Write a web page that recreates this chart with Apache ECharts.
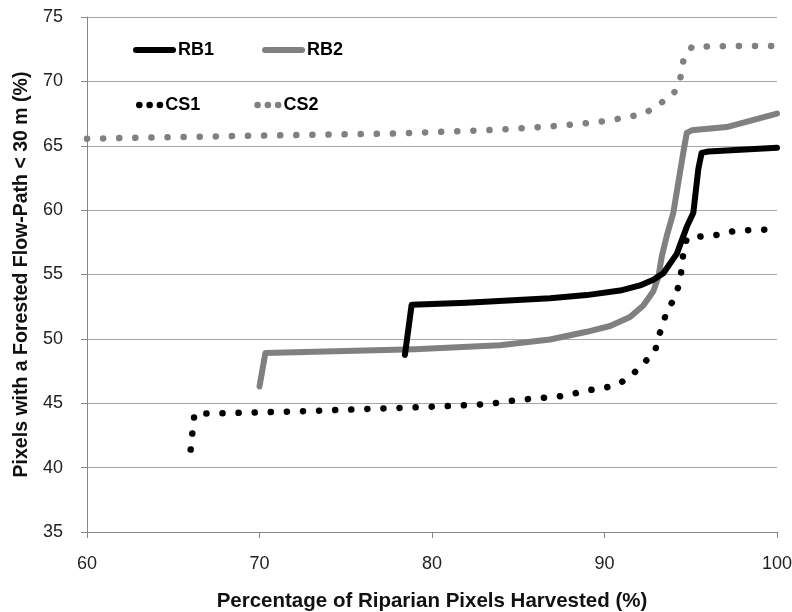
<!DOCTYPE html>
<html>
<head>
<meta charset="utf-8">
<script src="https://cdn.jsdelivr.net/npm/echarts@6/dist/echarts.min.js"></script>
<style>
  html, body { margin: 0; padding: 0; background: #fff; }
  #chart { width: 792px; height: 612px; }
</style>
</head>
<body>
<div id="chart"></div>
<script>
// values
const rb1X = [78.43, 78.82, 82.01, 86.84, 88.97, 90.90, 92.06, 92.83, 93.41, 94.19, 94.77, 95.15, 95.44, 95.63, 96.02, 100];
const rb1Y = [48.75, 52.65, 52.80, 53.15, 53.40, 53.75, 54.15, 54.60, 55.10, 56.60, 58.70, 59.80, 63.20, 64.45, 64.55, 64.85];

const rb2X = [70.0, 70.34, 79.0, 83.94, 86.84, 88.97, 90.32, 91.48, 92.25, 92.83, 93.12, 93.32, 93.61, 93.99, 94.57, 94.77, 95.06, 97.08, 100];
const rb2Y = [46.3, 48.9, 49.2, 49.5, 49.95, 50.55, 51.0, 51.7, 52.6, 53.7, 54.8, 56.4, 58.0, 59.8, 64.5, 66.0, 66.2, 66.45, 67.5];

const cs1X = [66.01, 66.10, 66.20, 66.22, 67.13, 71.77, 78.34, 81.24, 83.36, 84.91, 86.74, 87.81, 88.97, 89.93, 90.90, 91.67, 92.44, 92.93, 93.12, 93.37, 93.61, 93.90, 94.19, 94.38, 94.48, 94.57, 94.77, 95.54, 96.70, 97.57, 98.53, 99.7];
const cs1Y = [41.4, 42.6, 43.8, 44.2, 44.2, 44.35, 44.65, 44.8, 44.95, 45.25, 45.45, 45.6, 46.0, 46.15, 46.55, 47.3, 48.35, 49.0, 50.2, 50.95, 52.25, 52.8, 53.7, 54.45, 55.6, 56.65, 57.8, 57.95, 58.1, 58.4, 58.45, 58.5];

const cs2X = [60, 68.48, 77.95, 83.94, 86.84, 88.97, 89.93, 91.48, 92.44, 93.41, 93.99, 94.28, 94.48, 94.57, 94.86, 95.06, 96.12, 97.28, 99.7];
const cs2Y = [65.55, 65.75, 65.95, 66.25, 66.5, 66.75, 66.9, 67.25, 67.6, 68.45, 69.0, 69.75, 70.65, 71.6, 72.1, 72.7, 72.7, 72.75, 72.75];

const xTicks = [60, 70, 80, 90, 100];
const yTicks = [35, 40, 45, 50, 55, 60, 65, 70, 75];

const pairs = (xs, ys) => xs.map((x, i) => [x, ys[i]]);

const labelFont = { color: '#222', fontSize: 18, fontFamily: 'Liberation Sans' };
const legendText = { color: '#000', fontSize: 18, fontWeight: 'bold', fontFamily: 'Liberation Sans' };

const solid = (color) => ({ color: color, width: 6, cap: 'round', join: 'round' });
const dotted = (color) => ({ color: color, width: 6.5, type: [0.1, 16], cap: 'round', join: 'round' });

const chart = echarts.init(document.getElementById('chart'), null, { renderer: 'canvas' });

// legend: line only, no marker in the middle
const legendBase = {
    padding: 0,
    itemHeight: 18,
    textStyle: legendText,
    itemStyle: { opacity: 0, borderWidth: 0 },
};

chart.setOption({
    animation: false,
    backgroundColor: '#fff',
    grid: { left: 87, right: 15, top: 17, bottom: 80, outerBoundsMode: 'none' },
    legend: [
        Object.assign({}, legendBase, {
            data: ['RB1', 'RB2'],
            left: 133,
            top: 41,
            itemWidth: 37,
            itemGap: 48,
            textGap: 3,
            lineStyle: { width: 6, cap: 'round' },
        }),
        Object.assign({}, legendBase, {
            data: ['CS1', 'CS2'],
            left: 136,
            top: 96,
            itemWidth: 21,
            itemGap: 54,
            textGap: 19,
            lineStyle: { width: 6.5, type: [0.1, 10.2], cap: 'round' },
        }),
    ],
    xAxis: {
        type: 'value',
        min: xTicks[0],
        max: xTicks[xTicks.length - 1],
        interval: 10,
        name: 'Percentage of Riparian Pixels Harvested (%)',
        nameLocation: 'middle',
        nameGap: 59,
        nameTextStyle: { color: '#111', fontSize: 20.5, fontWeight: 'bold', fontFamily: 'Liberation Sans' },
        axisLine: { lineStyle: { color: '#868686', width: 1 } },
        axisTick: { show: true, length: 6, lineStyle: { color: '#868686' } },
        axisLabel: Object.assign({ margin: 23 }, labelFont),
        splitLine: { show: false },
    },
    yAxis: {
        type: 'value',
        min: yTicks[0],
        max: yTicks[yTicks.length - 1],
        interval: 5,
        name: 'Pixels with a Forested Flow-Path < 30 m (%)',
        nameLocation: 'middle',
        nameGap: 54,
        nameTextStyle: { color: '#111', fontSize: 19.5, fontWeight: 'bold', fontFamily: 'Liberation Sans' },
        axisLine: { show: true, lineStyle: { color: '#868686', width: 1 } },
        axisTick: { show: true, length: 6, lineStyle: { color: '#868686' } },
        axisLabel: Object.assign({ margin: 24 }, labelFont),
        splitLine: { show: true, lineStyle: { color: '#a6a6a6', width: 1 } },
    },
    series: [
        { name: 'RB1', type: 'line', z: 4, symbol: 'none', data: pairs(rb1X, rb1Y), lineStyle: solid('#000'), itemStyle: { color: '#000' } },
        { name: 'RB2', type: 'line', z: 3, symbol: 'none', data: pairs(rb2X, rb2Y), lineStyle: solid('#808080'), itemStyle: { color: '#808080' } },
        { name: 'CS1', type: 'line', z: 2, symbol: 'none', data: pairs(cs1X, cs1Y), lineStyle: dotted('#000'), itemStyle: { color: '#000' } },
        { name: 'CS2', type: 'line', z: 2, symbol: 'none', data: pairs(cs2X, cs2Y), lineStyle: dotted('#808080'), itemStyle: { color: '#808080' } },
    ],
});
</script>
</body>
</html>
